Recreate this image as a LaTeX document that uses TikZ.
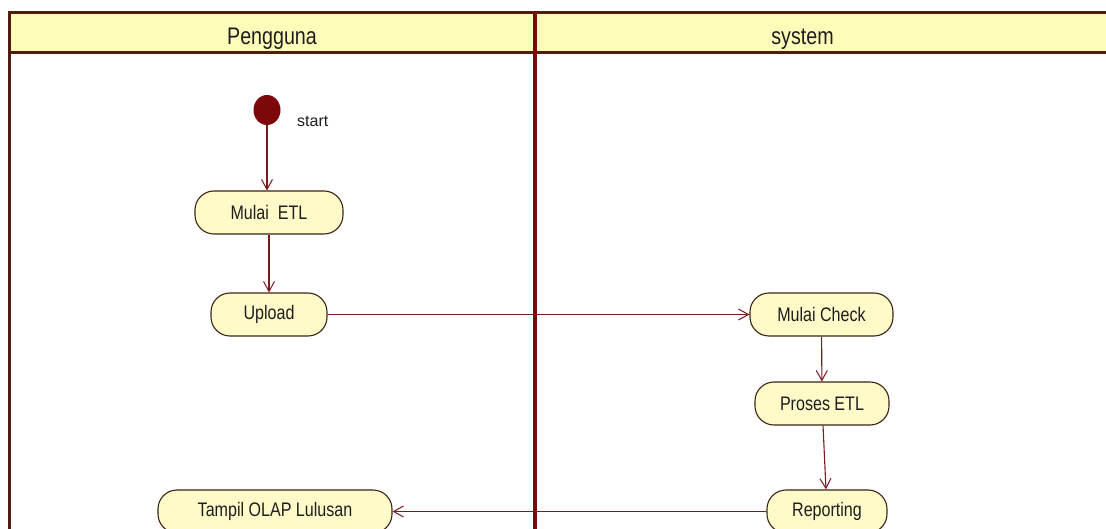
\documentclass[tikz,border=0pt]{standalone}
\usepackage{fontspec}
\setmainfont{Liberation Sans}[FakeStretch=0.82]
\newfontfamily\labelfont{Liberation Sans}
\usetikzlibrary{arrows.meta,shapes.geometric}

\definecolor{headfill}{RGB}{255,252,185}
\definecolor{headline}{RGB}{80,30,15}
\definecolor{lanediv}{RGB}{120,10,12}
\definecolor{nodefill}{RGB}{255,250,200}
\definecolor{nodeborder}{RGB}{60,35,20}
\definecolor{flowcol}{RGB}{120,25,30}
\definecolor{startcol}{RGB}{125,8,10}
\definecolor{textcol}{RGB}{30,30,30}

\tikzset{
  actnode/.style={draw=nodeborder, line width=1.1pt, fill=nodefill,
    rounded corners=19pt, minimum height=43pt, inner sep=0pt,
    text=textcol, font=\fontsize{19.6pt}{21pt}\selectfont},
  flow/.style={draw=flowcol, line width=1.1pt,
    -{Straight Barb[length=10pt,width=11pt,line width=1pt]}},
  lanetitle/.style={anchor=base, inner sep=0pt, text=textcol,
    font=\fontsize{24pt}{26pt}\selectfont},
}

\begin{document}
\begin{tikzpicture}[x=1pt,y=-1pt]
  \useasboundingbox (0,0) rectangle (1106,529);
  \fill[white] (0,0) rectangle (1106,529);
  \clip (0,0) rectangle (1106,529);

  % swimlane headers
  \fill[headfill] (9,12.5) rectangle (1110,53);
  \draw[headline, line width=3pt] (9,12.5) -- (1110,12.5);
  \draw[headline, line width=3pt] (9,53) -- (1110,53);
  \node[lanetitle] (laneA) at (272,44.3) {Pengguna};
  \node[lanetitle] (laneB) at (802.5,44.3) {system};

  % lane borders
  \draw[headline, line width=3pt] (9,11) -- (9,540);
  \draw[lanediv, line width=3.5pt] (535,11) -- (535,540);

  % initial state
  \node[ellipse, fill=startcol, minimum width=27pt, minimum height=30pt,
        inner sep=0pt] (start) at (267,110) {};
  \node[anchor=base west, inner sep=0pt, text=textcol,
        font=\labelfont\fontsize{16pt}{18pt}\selectfont]
        (startlbl) at (297,127) {start};

  % activities
  \node[actnode, minimum width=148pt] (metl) at (269,212.5) {Mulai\ \ ETL};
  \node[actnode, minimum width=116pt] (upl)  at (269,314.5) {Upload};
  \node[actnode, minimum width=143pt] (mchk) at (821.5,314.5) {Mulai Check};
  \node[actnode, minimum width=134pt] (petl) at (822,403.5) {Proses ETL};
  \node[actnode, minimum width=120pt] (rep)  at (827,511.5) {Reporting};
  \node[actnode, minimum width=234pt] (olap) at (275,511.5) {Tampil OLAP Lulusan};

  % transitions
  \draw[flow] (start) -- (start |- metl.north);
  \draw[flow] (metl) -- (upl);
  \draw[flow] (upl) -- (mchk);
  \draw[flow] (mchk) -- (petl);
  \draw[flow] (petl) -- (rep);
  \draw[flow] (rep) -- (olap);
\end{tikzpicture}
\end{document}
